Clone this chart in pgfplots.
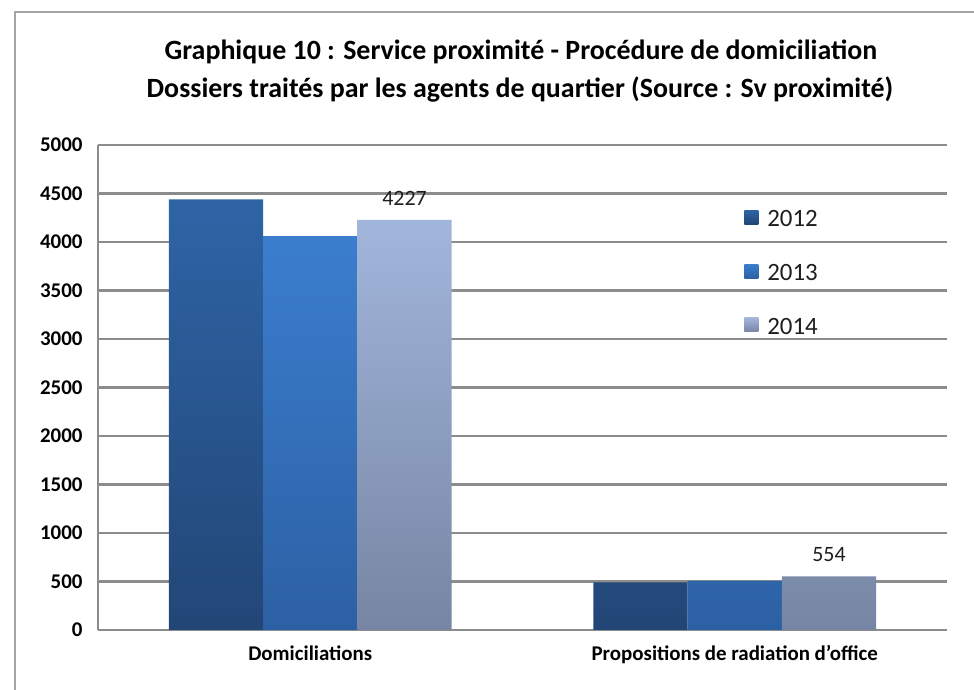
\documentclass[border=0pt]{standalone}
\usepackage{fontspec}
\setmainfont{Carlito}
\usepackage{pgfplots}
\pgfplotsset{compat=1.18}
\usetikzlibrary{calc}
\definecolor{gridgray}{RGB}{140,140,140}
\definecolor{framegray}{RGB}{165,165,165}
\definecolor{aTop}{RGB}{46,100,166}
\definecolor{aBot}{RGB}{34,70,118}
\definecolor{bTop}{RGB}{59,126,206}
\definecolor{bBot}{RGB}{44,96,164}
\definecolor{cTop}{RGB}{162,182,220}
\definecolor{cBot}{RGB}{118,133,163}
\definecolor{labtext}{RGB}{30,30,30}
\begin{document}
\begin{tikzpicture}
\begin{axis}[
  name=ax,
  scale only axis, width=849bp, height=485bp,
  xmin=-0.5, xmax=1.5, ymin=0, ymax=5000,
  ybar, bar width=0.222,
  xtick={0,1},
  xticklabels={Domiciliations, Propositions de radiation d'office},
  ytick={0,500,...,5000},
  major tick length=0pt,
  axis x line*=bottom, axis y line*=left,
  axis line style={gridgray, line width=2.5bp},
  ymajorgrids, grid style={gridgray, line width=2.5bp},
  /pgf/number format/assume math mode=true,
  /pgf/number format/set thousands separator={},
  yticklabel style={font=\bfseries\fontsize{21}{21}\selectfont, xshift=-12bp},
  xticklabel style={font=\bfseries\fontsize{21}{21}\selectfont, yshift=-12bp},
  legend style={at={(0.761,0.866)}, anchor=north west, draw=none, fill=none,
    font=\fontsize{25}{25}\selectfont, row sep=36bp, inner sep=0pt,
    nodes={inner sep=0pt}, text=labtext},
  legend cell align=left,
  legend image code/.code={\path[#1, draw=none] (0bp,-5bp) rectangle (14bp,9bp); \path (23bp,2bp);},
]
\addplot[draw=none, top color=aTop, bottom color=aBot, bar shift=-0.222] coordinates {(0,4440) (1,490)};
\addlegendentry{2012}
\addplot[draw=none, top color=bTop, bottom color=bBot, bar shift=0] coordinates {(0,4060) (1,507)};
\addlegendentry{2013}
\addplot[draw=none, top color=cTop, bottom color=cBot, bar shift=0.222,
  nodes near coords, every node near coord/.append style={font=\fontsize{22}{22}\selectfont, text=labtext, yshift=11bp}] coordinates {(0,4227) (1,554)};
\addlegendentry{2014}
\end{axis}
\pgfresetboundingbox
\begin{scope}[shift={(ax.south west)}, x=1bp, y=1bp]
\path[use as bounding box] (-98,-60) rectangle (876,630);
\draw[framegray, line width=2.2bp] (-83,-100) -- (-83,618) -- (900,618);
\node[font=\bfseries\fontsize{28}{28}\selectfont, anchor=base] at (423,570) {Graphique 10 : Service proximité - Procédure de domiciliation};
\node[font=\bfseries\fontsize{28}{28}\selectfont, anchor=base] at (422,532) {Dossiers traités par les agents de quartier (Source : Sv proximité)};
\end{scope}
\end{tikzpicture}
\end{document}
